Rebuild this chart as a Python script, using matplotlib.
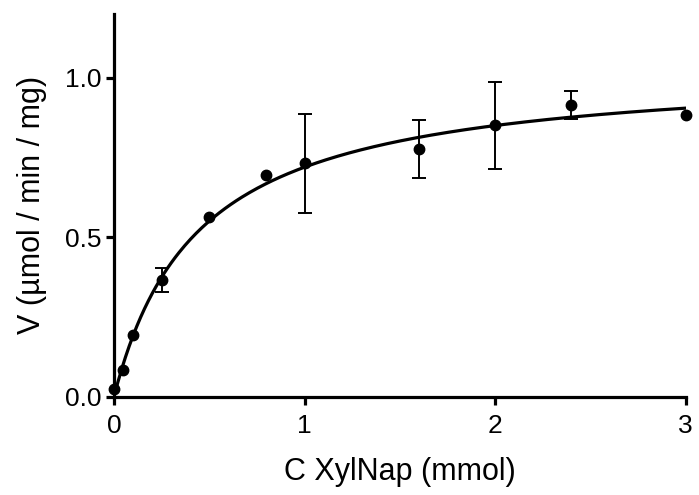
import numpy as np
import matplotlib.pyplot as plt

plt.rcParams['font.family'] = ['Liberation Sans', 'DejaVu Sans']

# substrate concentration (mmol) and measured rate
conc = [0.0, 0.05, 0.1, 0.25, 0.5, 0.8, 1.0, 1.6, 2.0, 2.4, 3.0]
rate = [0.025, 0.085, 0.195, 0.367, 0.564, 0.696, 0.733, 0.776, 0.853, 0.913, 0.883]
err_lo = [0.0, 0.0, 0.0, 0.038, 0.0, 0.0, 0.156, 0.089, 0.138, 0.043, 0.0]
err_hi = [0.0, 0.0, 0.0, 0.037, 0.0, 0.0, 0.154, 0.090, 0.135, 0.045, 0.0]

# Michaelis-Menten fit parameters
Vmax = 1.038
Km = 0.442

fig = plt.figure(figsize=(6.99, 4.95), dpi=100)
ax = fig.add_axes([0.163, 0.198, 0.818, 0.774])

xfit = np.linspace(0, 3, 300)
ax.plot(xfit, Vmax * xfit / (Km + xfit), 'k-', lw=2.3, zorder=2)

# error bars only where there is a spread
idx = [i for i in range(len(conc)) if err_lo[i] > 0 or err_hi[i] > 0]
ax.errorbar([conc[i] for i in idx], [rate[i] for i in idx],
            yerr=[[err_lo[i] for i in idx], [err_hi[i] for i in idx]],
            fmt='none', ecolor='k', elinewidth=1.4, capsize=5, capthick=1.4, zorder=3)
ax.plot(conc, rate, 'ko', ms=7.5, clip_on=False, zorder=4)

ax.set_xlim(0, 3)
ax.set_ylim(0, 1.2)
ax.set_xticks([0, 1, 2, 3])
ax.set_yticks([0.0, 0.5, 1.0])
ax.set_yticklabels(['0.0', '0.5', '1.0'])

for s in ['top', 'right']:
    ax.spines[s].set_visible(False)
for s in ['left', 'bottom']:
    ax.spines[s].set_linewidth(2.3)
ax.tick_params(width=2.3, length=6, labelsize=19)
ax.tick_params(axis='x', pad=6)
ax.tick_params(axis='y', pad=3)

ax.set_xlabel('C XylNap (mmol)', fontsize=22, labelpad=14)
ax.set_ylabel('V (µmol / min / mg)', fontsize=22, labelpad=13)

plt.savefig('out.png', dpi=100)
